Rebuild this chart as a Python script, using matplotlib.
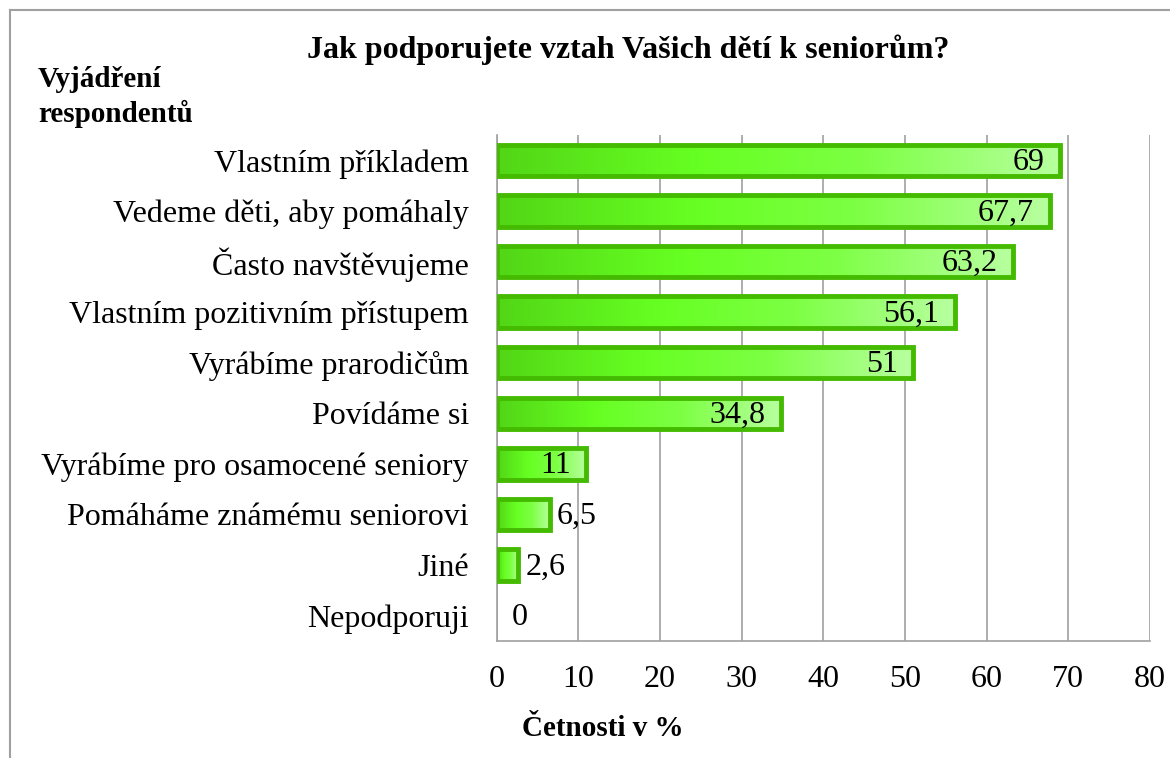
import numpy as np
import matplotlib
matplotlib.use("Agg")
import matplotlib.pyplot as plt
from matplotlib.colors import LinearSegmentedColormap

categories = ["Vlastním příkladem", "Vedeme děti, aby pomáhaly", "Často navštěvujeme",
              "Vlastním pozitivním přístupem", "Vyrábíme prarodičům", "Povídáme si",
              "Vyrábíme pro osamocené seniory", "Pomáháme známému seniorovi", "Jiné", "Nepodporuji"]
values = [69, 67.7, 63.2, 56.1, 51, 34.8, 11, 6.5, 2.6, 0]
value_labels = ["69", "67,7", "63,2", "56,1", "51", "34,8", "11", "6,5", "2,6", "0"]
xticks = [0, 10, 20, 30, 40, 50, 60, 70, 80]

plt.rcParams['font.family'] = ['Liberation Serif', 'DejaVu Serif']

fig = plt.figure(figsize=(11.7, 7.58), dpi=100)
ax = fig.add_axes([0.4245, 0.1544, 0.9829 - 0.4245, 0.8219 - 0.1544])

n = len(categories)
ypos = np.arange(n)
ax.set_xlim(0, 80)
ax.set_ylim(n - 0.5, -0.5)

cmap = LinearSegmentedColormap.from_list("g", [(0.0, "#52d616"), (0.35, "#66ff22"), (0.65, "#7dff44"), (1.0, "#b8ffa0")])
grad = np.linspace(0, 1, 256).reshape(1, -1)

bh = 0.62
bars = ax.barh(ypos, values, height=bh, facecolor="none", edgecolor="#44bb00", linewidth=3.5, zorder=3)
for b, v in zip(bars, values):
    if v <= 0:
        b.set_visible(False)
        continue
    im = ax.imshow(grad, cmap=cmap, aspect="auto", extent=[0, v, b.get_y() + bh, b.get_y()],
                   zorder=2, interpolation="bicubic")
    im.set_clip_path(b)

for y, v, lab in zip(ypos, values, value_labels):
    if v >= 10:
        ax.text(v - 1.9, y + 0.04, lab, ha="right", va="center", fontsize=23, color="black", zorder=4)
    else:
        x = v + 0.9 if v > 0 else 1.9
        ax.text(x, y + 0.04, lab, ha="left", va="center", fontsize=23, color="black", zorder=4)

ax.set_yticks(ypos)
ax.set_yticklabels(categories, fontsize=23)
ax.set_xticks(xticks)
ax.set_xticklabels([str(t) for t in xticks], fontsize=23)
ax.tick_params(axis="y", length=0, pad=20)
ax.tick_params(axis="x", length=0, pad=17)
ax.grid(axis="x", color="#a0a0a0", linewidth=1.2, zorder=0)
ax.set_axisbelow(True)
for s in ["top", "right"]:
    ax.spines[s].set_visible(False)
for s in ["left", "bottom"]:
    ax.spines[s].set_color("#a0a0a0")
    ax.spines[s].set_linewidth(1.2)

fig.text(628 / 1170, 1 - 50 / 758, "Jak podporujete vztah Vašich dětí k seniorům?", ha="center", va="center",
         fontsize=23, fontweight="bold")
fig.text(38 / 1170, 1 - 97 / 758, "Vyjádření\nrespondentů", ha="left", va="center", fontsize=21,
         fontweight="bold", linespacing=1.3)
fig.text(603 / 1170, 1 - 728 / 758, "Četnosti v %", ha="center", va="center", fontsize=21, fontweight="bold")

# chart area border (left and top visible)
fig.add_artist(plt.Line2D([9.5 / 1170, 9.5 / 1170], [0, 1 - 10 / 758], transform=fig.transFigure, color="#a0a0a0", lw=1.5))
fig.add_artist(plt.Line2D([9.5 / 1170, 1], [1 - 10 / 758, 1 - 10 / 758], transform=fig.transFigure, color="#a0a0a0", lw=1.5))

fig.savefig("out.png", dpi=100)
